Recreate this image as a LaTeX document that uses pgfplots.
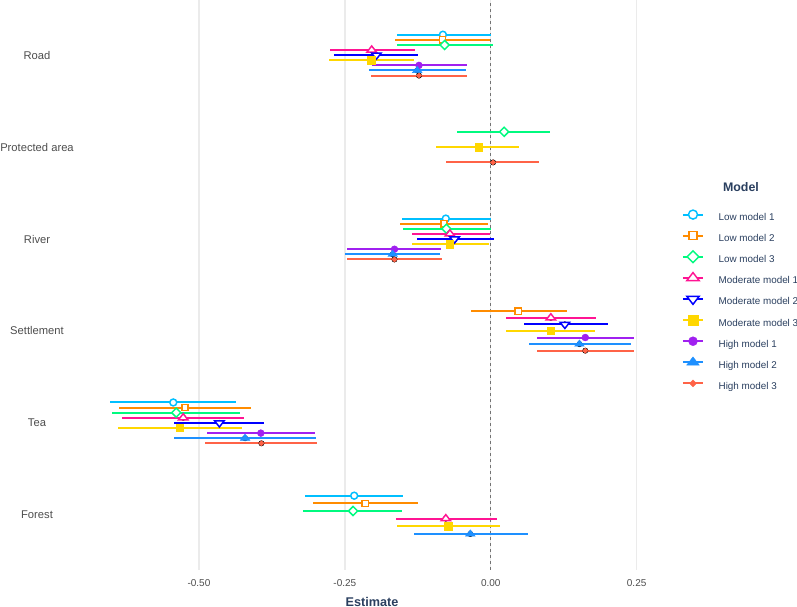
\documentclass[border=0pt]{standalone}
\usepackage{pgfplots}
\usepackage{pgfplotstable}
\pgfplotsset{compat=1.18}
\usepackage{fontspec}
\setmainfont{Liberation Sans}

\definecolor{cLA}{HTML}{00BFFF}
\definecolor{cLB}{HTML}{FF8C00}
\definecolor{cLC}{HTML}{00FA7F}
\definecolor{cMA}{HTML}{FF1493}
\definecolor{cMB}{HTML}{0000FF}
\definecolor{cMC}{HTML}{FFD700}
\definecolor{cHA}{HTML}{A020F0}
\definecolor{cHB}{HTML}{1E90FF}
\definecolor{cHC}{HTML}{FF6347}
\definecolor{txt}{HTML}{4D4D4D}
\definecolor{ttl}{HTML}{2A3F5F}
\definecolor{gridc}{HTML}{EBEBEB}

% columns: y (category position with dodge), estimate, lower, upper
\pgfplotstableread{
y est lo hi
6.2222 -0.082 -0.161 0.000
4.2222 -0.077 -0.152 0.000
2.2222 -0.544 -0.652 -0.437
1.2083 -0.234 -0.318 -0.150
}\lowA
\pgfplotstableread{
y est lo hi
6.1667 -0.083 -0.164 -0.002
4.1667 -0.080 -0.155 -0.005
3.2143 0.047 -0.034 0.130
2.1667 -0.524 -0.637 -0.410
1.1250 -0.215 -0.304 -0.125
}\lowB
\pgfplotstableread{
y est lo hi
6.1111 -0.079 -0.160 0.003
5.1667 0.023 -0.057 0.102
4.1111 -0.076 -0.151 0.000
2.1111 -0.539 -0.649 -0.430
1.0417 -0.236 -0.321 -0.152
}\lowC
\pgfplotstableread{
y est lo hi
6.0556 -0.204 -0.276 -0.130
4.0556 -0.070 -0.135 -0.002
3.1429 0.103 0.026 0.180
2.0556 -0.527 -0.632 -0.422
0.9583 -0.077 -0.163 0.010
}\modA
\pgfplotstableread{
y est lo hi
6.0000 -0.196 -0.268 -0.124
4.0000 -0.062 -0.127 0.005
3.0714 0.127 0.057 0.201
2.0000 -0.465 -0.542 -0.388
}\modB
\pgfplotstableread{
y est lo hi
5.9444 -0.205 -0.277 -0.131
5.0000 -0.021 -0.093 0.049
3.9444 -0.070 -0.135 -0.003
3.0000 0.103 0.026 0.179
1.9444 -0.533 -0.639 -0.426
0.8750 -0.073 -0.160 0.015
}\modC
\pgfplotstableread{
y est lo hi
5.8889 -0.123 -0.204 -0.041
3.8889 -0.165 -0.247 -0.085
2.9286 0.162 0.079 0.245
1.8889 -0.394 -0.487 -0.301
}\highA
\pgfplotstableread{
y est lo hi
5.8333 -0.126 -0.209 -0.043
3.8333 -0.168 -0.250 -0.087
2.8571 0.152 0.065 0.240
1.8333 -0.421 -0.542 -0.300
0.7917 -0.035 -0.131 0.064
}\highB
\pgfplotstableread{
y est lo hi
5.7778 -0.123 -0.205 -0.040
4.8333 0.004 -0.076 0.083
3.7778 -0.165 -0.246 -0.083
2.7857 0.162 0.080 0.245
1.7778 -0.393 -0.489 -0.297
}\highC

\pgfplotsset{
  ci/.style={forget plot, only marks, mark=none,
    error bars/.cd, x dir=both, x explicit, error mark=none,
    error bar style={line width=1.5pt, color=#1, solid}},
  ciline/.style={legend image code/.code={%
    \path[draw=none,fill=none] (0pt,-3pt) rectangle (15pt,8.25pt);
    \draw[line width=1.5pt,##1,fill=none] (0pt,2.5pt) -- (15pt,2.5pt);
    \draw[##1,/tikz/only marks,/tikz/every mark/.append style={scale=1.3}]
      plot coordinates {(7.5pt,2.5pt)};}},
}

\begin{document}
\begin{tikzpicture}
\path[use as bounding box] (-63pt,-27.75pt) rectangle (534.75pt,427.5pt);
\begin{axis}[
  scale only axis, width=432pt, height=427.5pt,
  xmin=-0.697, xmax=0.29, ymin=0.4, ymax=6.6,
  axis line style={draw=none}, tick style={draw=none},
  xtick={-0.5,-0.25,0,0.25},
  xmajorgrids, x grid style={color=gridc, line width=1pt},
  xticklabel style={font=\fontsize{7.5}{9}\selectfont, text=txt,
    inner sep=0pt, anchor=north, yshift=-7.1pt,
    /pgf/number format/fixed, /pgf/number format/fixed zerofill,
    /pgf/number format/precision=2, /pgf/number format/assume math mode=true},
  ytick={1,2,3,4,5,6},
  yticklabels={Forest,Tea,Settlement,River,Protected area,Road},
  yticklabel style={font=\fontsize{8.4}{10}\selectfont, text=txt,
    anchor=center, xshift=-35.25pt},
  xlabel={Estimate},
  xlabel style={font=\bfseries\fontsize{9.5}{11}\selectfont, text=ttl,
    at={(axis description cs:0.5,0)}, anchor=north, inner sep=0pt, yshift=-20pt},
  legend style={at={(axis description cs:1.0382,0.6370)}, anchor=north west,
    draw=none, fill=none, inner sep=0pt, outer sep=0pt, row sep=4.15pt,
    font=\fontsize{7.4}{9}\selectfont, text=ttl,
    /tikz/every odd column/.append style={column sep=11pt},
    nodes={inner sep=0pt}},
  legend cell align=left,
  clip=false,
]
\addplot[forget plot, color=black!55, line width=0.5pt, dash pattern=on 2.25pt off 2.25pt]
  coordinates {(0,0.4) (0,6.6)};

% confidence intervals
\addplot[ci=cLA] table[x=est,y=y,x error plus expr=\thisrow{hi}-\thisrow{est},x error minus expr=\thisrow{est}-\thisrow{lo}]{\lowA};
\addplot[ci=cLB] table[x=est,y=y,x error plus expr=\thisrow{hi}-\thisrow{est},x error minus expr=\thisrow{est}-\thisrow{lo}]{\lowB};
\addplot[ci=cLC] table[x=est,y=y,x error plus expr=\thisrow{hi}-\thisrow{est},x error minus expr=\thisrow{est}-\thisrow{lo}]{\lowC};
\addplot[ci=cMA] table[x=est,y=y,x error plus expr=\thisrow{hi}-\thisrow{est},x error minus expr=\thisrow{est}-\thisrow{lo}]{\modA};
\addplot[ci=cMB] table[x=est,y=y,x error plus expr=\thisrow{hi}-\thisrow{est},x error minus expr=\thisrow{est}-\thisrow{lo}]{\modB};
\addplot[ci=cMC] table[x=est,y=y,x error plus expr=\thisrow{hi}-\thisrow{est},x error minus expr=\thisrow{est}-\thisrow{lo}]{\modC};
\addplot[ci=cHA] table[x=est,y=y,x error plus expr=\thisrow{hi}-\thisrow{est},x error minus expr=\thisrow{est}-\thisrow{lo}]{\highA};
\addplot[ci=cHB] table[x=est,y=y,x error plus expr=\thisrow{hi}-\thisrow{est},x error minus expr=\thisrow{est}-\thisrow{lo}]{\highB};
\addplot[ci=cHC] table[x=est,y=y,x error plus expr=\thisrow{hi}-\thisrow{est},x error minus expr=\thisrow{est}-\thisrow{lo}]{\highC};

% point estimates
\addplot[color=cLA, only marks, mark=*, mark size=2.6pt,
  mark options={fill=white, line width=1.1pt, solid}, ciline] table[x=est,y=y]{\lowA};
\addlegendentry{Low model 1}
\addplot[color=cLB, only marks, mark=square*, mark size=2.3pt,
  mark options={fill=white, line width=1.1pt, solid}, ciline] table[x=est,y=y]{\lowB};
\addlegendentry{Low model 2}
\addplot[color=cLC, only marks, mark=square*, mark size=2.4pt,
  mark options={fill=white, line width=1.1pt, solid, rotate=45}, ciline] table[x=est,y=y]{\lowC};
\addlegendentry{Low model 3}
\addplot[color=cMA, only marks, mark=triangle*, mark size=4.1pt,
  mark options={fill=white, line width=1.1pt, solid, yscale=0.75}, ciline] table[x=est,y=y]{\modA};
\addlegendentry{Moderate model 1}
\addplot[color=cMB, only marks, mark=triangle*, mark size=4.1pt,
  mark options={fill=white, line width=1.1pt, solid, yscale=0.75, rotate=180}, ciline] table[x=est,y=y]{\modB};
\addlegendentry{Moderate model 2}
\addplot[color=cMC, only marks, mark=square*, mark size=2.75pt,
  mark options={fill=cMC, line width=0.3pt, solid}, ciline] table[x=est,y=y]{\modC};
\addlegendentry{Moderate model 3}
\addplot[color=cHA, only marks, mark=*, mark size=2.6pt,
  mark options={fill=cHA, line width=0.3pt, solid}, ciline] table[x=est,y=y]{\highA};
\addlegendentry{High model 1}
\addplot[color=cHB, only marks, mark=triangle*, mark size=4.2pt,
  mark options={fill=cHB, line width=0.3pt, solid, yscale=0.75}, ciline] table[x=est,y=y]{\highB};
\addlegendentry{High model 2}
\addplot[color=cHC, only marks, mark=square*, mark size=1.4pt,
  mark options={fill=cHC, line width=0.3pt, solid, rotate=45}, ciline] table[x=est,y=y]{\highC};
\addlegendentry{High model 3}

\node[font=\bfseries\fontsize{9.3}{11}\selectfont, text=ttl]
  at (axis description cs:1.1406,0.6725) {Model};
\end{axis}
\end{tikzpicture}
\end{document}
